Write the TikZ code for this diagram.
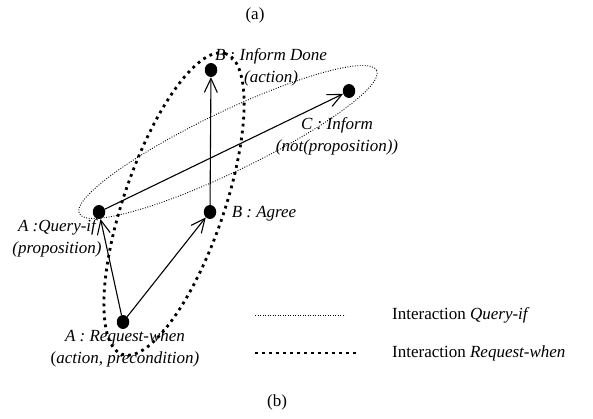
\documentclass[tikz,border=0pt]{standalone}
\usepackage{fontspec}
\setmainfont{Liberation Serif}
\usetikzlibrary{arrows.meta,shapes.geometric}
\begin{document}
\begin{tikzpicture}[x=1pt,y=-1pt,
  every node/.style={font=\fontsize{17}{22}\selectfont\itshape},
  dot/.style={ellipse,fill=black,draw=none,minimum width=12.5pt,minimum height=14pt,inner sep=0pt},
  conn/.style={line width=1.1pt,-{Straight Barb[length=14pt,width=13pt,line width=1.1pt]}},
  thickdots/.style={line width=2.8pt,dash pattern=on 2.8pt off 4.2pt},
  thindots/.style={line width=0.9pt,dash pattern=on 0.9pt off 1.6pt},
  lbl/.style={align=center,inner sep=0pt},
  legend/.style={font=\fontsize{17}{22}\selectfont\upshape,anchor=west,inner sep=0pt}]
\useasboundingbox (0,0) rectangle (593,419);

% interaction outlines
\draw[thickdots,shift={(174,204)},rotate=71] (0,0) ellipse [x radius=159pt,y radius=50pt];
\draw[thindots,shift={(228,142)},rotate=25.7] (0,0) ellipse [x radius=165pt,y radius=30pt];

% states
\node[dot] (done)  at (211,70) {};
\node[dot] (inf)   at (349,91) {};
\node[dot] (qif)   at (99,212) {};
\node[dot] (agree) at (210,212) {};
\node[dot] (rw)    at (123,322) {};

% messages
\draw[conn] (rw) -- (qif);
\draw[conn] (rw) -- (agree);
\draw[conn] (agree) -- (done);
\draw[conn] (qif) -- (inf);

% labels
\node[lbl] (ldone)  at (271,67)  {B : Inform Done\\(action)};
\node[lbl] (linf)   at (337,136) {C : Inform\\(not(proposition))};
\node[lbl] (lqif)   at (57,238)  {A :Query-if\\(proposition)};
\node[lbl] (lagree) at (264,214) {B : Agree};
\node[lbl] (lrw)    at (125,348) {A : Request-when\\{\upshape(}action, precondition)};

% legend
\coordinate (q1) at (255,315);
\coordinate (q2) at (345,315);
\coordinate (r1) at (255,353);
\coordinate (r2) at (358,353);
\draw[thindots] (q1) -- (q2);
\draw[thickdots] (r1) -- (r2);
\node[legend] (tq) at (392,315) {Interaction \textit{Query-if}};
\node[legend] (tr) at (392,353) {Interaction \textit{Request-when}};

% captions
\node[legend,anchor=center] (capa) at (255,15) {(a)};
\node[legend,anchor=center] (capb) at (277,402) {(b)};
\end{tikzpicture}
\end{document}
